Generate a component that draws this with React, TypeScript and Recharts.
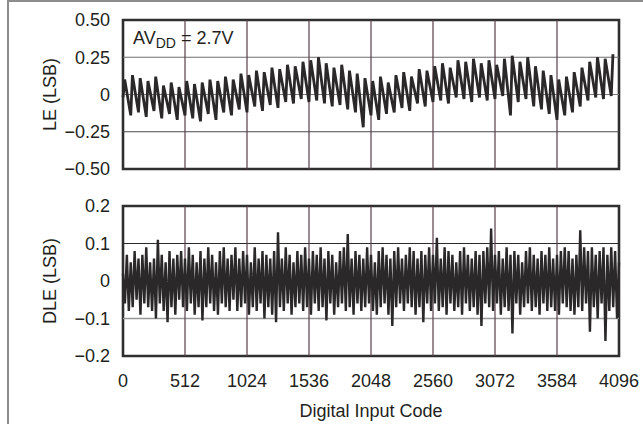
import { LineChart, Line, XAxis, YAxis, ReferenceLine, ReferenceArea } from "recharts";

const codeTicks = [0, 512, 1024, 1536, 2048, 2560, 3072, 3584, 4096];
const leTicks = [-0.5, -0.25, 0, 0.25, 0.5];
const dleTicks = [-0.2, -0.1, 0, 0.1, 0.2];

// LE: one low and one high reading per 64-code cycle
const leLow = [
  -0.02, -0.14, -0.12, -0.15, -0.11, -0.16, -0.13, -0.17, -0.14, -0.16,
  -0.18, -0.13, -0.17, -0.12, -0.14, -0.10, -0.12, -0.08, -0.11, -0.07,
  -0.09, -0.05, -0.06, -0.03, -0.05, -0.04, -0.06, -0.08, -0.07, -0.10,
  -0.12, -0.22, -0.14, -0.17, -0.13, -0.12, -0.09, -0.11, -0.06, -0.08,
  -0.05, -0.04, -0.06, -0.02, -0.03, -0.05, -0.02, -0.04, -0.03, -0.01,
  -0.14, -0.05, -0.03, -0.08, -0.10, -0.13, -0.17, -0.14, -0.12, -0.08,
  -0.04, -0.02, -0.03, -0.01,
];
const leHigh = [
  0.10, 0.13, 0.11, 0.09, 0.12, 0.06, 0.08, 0.05, 0.09, 0.07,
  0.08, 0.10, 0.09, 0.12, 0.10, 0.14, 0.13, 0.16, 0.15, 0.18,
  0.17, 0.20, 0.19, 0.22, 0.23, 0.25, 0.21, 0.18, 0.20, 0.16,
  0.14, 0.11, 0.09, 0.12, 0.08, 0.13, 0.15, 0.12, 0.17, 0.16,
  0.19, 0.21, 0.18, 0.23, 0.22, 0.24, 0.21, 0.23, 0.20, 0.24,
  0.26, 0.22, 0.25, 0.19, 0.16, 0.13, 0.10, 0.12, 0.15, 0.18,
  0.22, 0.25, 0.24, 0.27,
];

// DLE: one reading every 16 codes
const dle = [
  0.02, -0.06, 0.07, -0.08, 0.05, -0.07, 0.08, -0.05, 0.06, -0.09, 0.07, -0.06, 0.09, -0.07, 0.05, -0.08,
  0.06, -0.10, 0.11, -0.06, 0.07, -0.08, 0.05, -0.11, 0.08, -0.07, 0.06, -0.09, 0.07, -0.05, 0.08, -0.07,
  0.06, -0.08, 0.09, -0.06, 0.07, -0.09, 0.05, -0.07, 0.08, -0.105, 0.06, -0.07, 0.09, -0.06, 0.07, -0.08,
  0.05, -0.09, 0.08, -0.06, 0.09, -0.07, 0.06, -0.08, 0.07, -0.05, 0.09, -0.08, 0.06, -0.07, 0.08, -0.06,
  0.07, -0.09, 0.05, -0.07, 0.09, -0.08, 0.06, -0.06, 0.08, -0.10, 0.07, -0.07, 0.06, -0.09, 0.08, -0.11,
  0.13, -0.07, 0.06, -0.08, 0.09, -0.06, 0.07, -0.09, 0.05, -0.07, 0.08, -0.06, 0.07, -0.08, 0.09, -0.07,
  0.06, -0.09, 0.08, -0.06, 0.07, -0.08, 0.09, -0.07, 0.06, -0.105, 0.08, -0.06, 0.07, -0.09, 0.05, -0.07,
  0.08, -0.06, 0.09, -0.08, 0.125, -0.07, 0.06, -0.09, 0.08, -0.06, 0.07, -0.08, 0.06, -0.07, 0.09, -0.06,
  0.07, -0.08, 0.05, -0.09, 0.08, -0.07, 0.09, -0.06, 0.07, -0.09, 0.06, -0.12, 0.08, -0.07, 0.09, -0.06,
  0.06, -0.08, 0.07, -0.06, 0.09, -0.07, 0.08, -0.09, 0.06, -0.07, 0.08, -0.11, 0.07, -0.06, 0.09, -0.08,
  0.07, -0.06, 0.115, -0.08, 0.06, -0.07, 0.09, -0.09, 0.08, -0.06, 0.07, -0.08, 0.05, -0.07, 0.08, -0.09,
  0.09, -0.06, 0.07, -0.08, 0.06, -0.07, 0.08, -0.09, 0.07, -0.12, 0.08, -0.06, 0.09, -0.07, 0.14, -0.08,
  0.07, -0.06, 0.08, -0.09, 0.06, -0.07, 0.09, -0.08, 0.07, -0.14, 0.08, -0.06, 0.07, -0.09, 0.05, -0.07,
  0.08, -0.06, 0.09, -0.08, 0.07, -0.07, 0.06, -0.09, 0.08, -0.06, 0.07, -0.08, 0.09, -0.07, 0.06, -0.08,
  0.07, -0.09, 0.08, -0.06, 0.09, -0.07, 0.08, -0.08, 0.06, -0.09, 0.07, -0.07, 0.135, -0.08, 0.09, -0.06,
  0.08, -0.135, 0.09, -0.07, 0.07, -0.10, 0.08, -0.06, 0.09, -0.16, 0.07, -0.08, 0.09, -0.07, 0.08, -0.10,
  0.05,
];

// sharp rise to the high reading, slower fall to the next low one
const leData = leLow.flatMap((lo, k) => [
  { code: k * 64, v: lo },
  { code: k * 64 + 14, v: leHigh[k] },
]);
const dleData = dle.map((v, i) => ({ code: i * 16, v }));

const FONT = "'Liberation Sans', Arial, Helvetica, sans-serif";
const INK = "#231f20";
const tickStyle = { fontSize: 18, fill: INK, fontFamily: FONT };
const GRID_V = "#5b3d4a";
const TRACE = "#2a2829";

const fmt = (digits: number) => (v: number) =>
  v === 0 ? "0" : v.toFixed(digits).replace("-", "\u2212");

const yLabel = (text: string) => (props: any) => {
  const vb = props.viewBox;
  const cx = vb.x + 50;
  const cy = vb.y + vb.height / 2;
  return (
    <text
      x={cx}
      y={cy}
      transform={`rotate(-90 ${cx} ${cy})`}
      textAnchor="middle"
      dominantBaseline="central"
      fontSize={18}
      fontFamily={FONT}
      fill={INK}
    >
      {text}
    </text>
  );
};

export default function App() {
  return (
    <div style={{ position: "absolute", left: 0, top: 0, width: 643, height: 424, background: "#fff" }}>
      <div
        style={{
          position: "absolute",
          left: 7,
          top: 0,
          width: 636,
          height: 424,
          borderLeft: "2px solid #8c8c8c",
          borderTop: "2px solid #8c8c8c",
          boxSizing: "border-box",
        }}
      />
      <div style={{ position: "absolute", left: 0, top: 0 }}>
        <LineChart width={643} height={185} data={leData} margin={{ top: 20, right: 24, left: 0, bottom: 16 }}>
          <XAxis dataKey="code" type="number" domain={[0, 4096]} ticks={codeTicks} hide />
          <YAxis
            type="number"
            domain={[-0.5, 0.5]}
            ticks={leTicks}
            width={123}
            axisLine={false}
            tickLine={false}
            tickSize={0}
            tickMargin={13}
            tick={tickStyle}
            tickFormatter={fmt(2)}
            label={yLabel("LE (LSB)")}
          />
          <ReferenceLine y={0.25} stroke="#6e6e6e" strokeWidth={1.2} />
          <ReferenceLine y={0} stroke="#7a7a7a" strokeWidth={1.2} />
          <ReferenceLine y={-0.25} stroke="#4a4a4a" strokeWidth={1.2} />
          {codeTicks.slice(1, -1).map((c) => (
            <ReferenceLine key={c} x={c} stroke={GRID_V} strokeWidth={1.2} />
          ))}
          <Line type="linear" dataKey="v" stroke={TRACE} strokeWidth={2.8} dot={false} isAnimationActive={false} />
          <ReferenceArea x1={0} x2={4096} y1={-0.5} y2={0.5} fill="none" stroke="#2f2f2f" strokeWidth={2.6} />
        </LineChart>
      </div>
      <div style={{ position: "absolute", left: 0, top: 186 }}>
        <LineChart width={643} height={238} data={dleData} margin={{ top: 20, right: 24, left: 0, bottom: 0 }}>
          <XAxis
            dataKey="code"
            type="number"
            domain={[0, 4096]}
            ticks={codeTicks}
            height={68}
            axisLine={false}
            tickLine={false}
            tickSize={0}
            tickMargin={18}
            tick={tickStyle}
            label={{
              value: "Digital Input Code",
              position: "insideBottom",
              offset: 7,
              style: { fontSize: 18, fill: INK, fontFamily: FONT },
            }}
          />
          <YAxis
            type="number"
            domain={[-0.2, 0.2]}
            ticks={dleTicks}
            width={123}
            axisLine={false}
            tickLine={false}
            tickSize={0}
            tickMargin={13}
            tick={tickStyle}
            tickFormatter={fmt(1)}
            label={yLabel("DLE (LSB)")}
          />
          <ReferenceLine y={0.1} stroke="#2a2a2a" strokeWidth={1.2} />
          <ReferenceLine y={0} stroke="#9a9a9a" strokeWidth={1.2} />
          <ReferenceLine y={-0.1} stroke="#979797" strokeWidth={1.6} />
          {codeTicks.slice(1, -1).map((c) => (
            <ReferenceLine key={c} x={c} stroke={GRID_V} strokeWidth={1.2} />
          ))}
          <Line type="linear" dataKey="v" stroke={TRACE} strokeWidth={2.4} dot={false} isAnimationActive={false} />
          <ReferenceArea x1={0} x2={4096} y1={-0.2} y2={0.2} fill="none" stroke="#2f2f2f" strokeWidth={2.6} />
        </LineChart>
      </div>
      <svg width={643} height={60} style={{ position: "absolute", left: 0, top: 0, pointerEvents: "none" }}>
        <text x={133} y={43.5} fontSize={18} fontFamily={FONT} fill={INK}>
          AV
          <tspan fontSize={14} dy={4.5}>DD</tspan>
          <tspan fontSize={18} dy={-4.5}> = 2.7V</tspan>
        </text>
      </svg>
    </div>
  );
}
